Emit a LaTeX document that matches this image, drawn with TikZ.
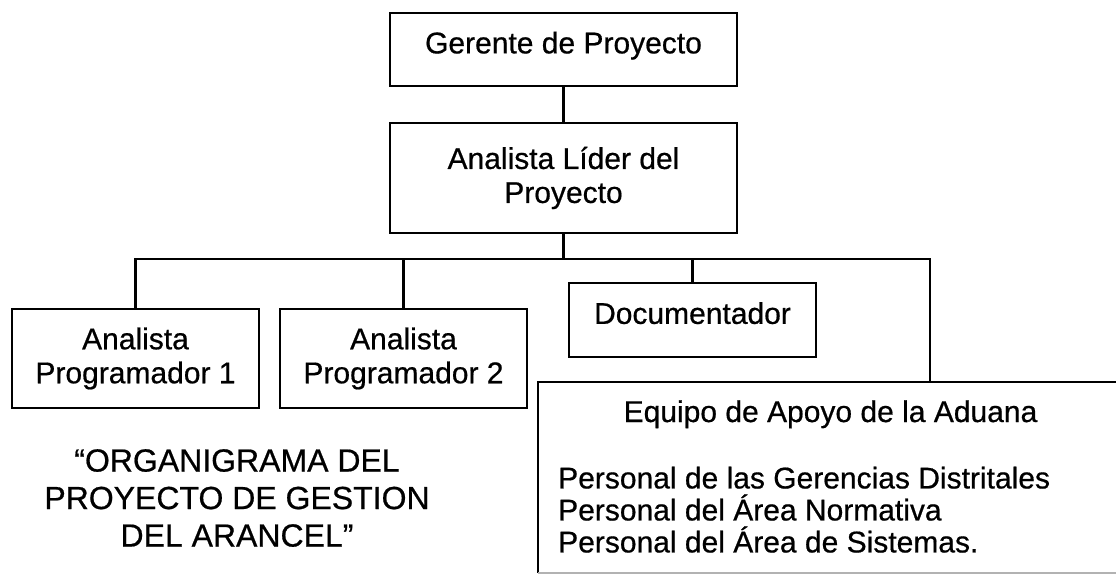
\documentclass[tikz,border=0pt]{standalone}
\usepackage{fontspec}
\setmainfont{Liberation Sans}[FakeBold=0.6]
\begin{document}
\begin{tikzpicture}[x=1pt,y=-1pt,
    box/.style={draw, line width=2.6pt, inner sep=0pt, align=center,
        font=\fontsize{30}{34}\selectfont},
    link/.style={line width=2.2pt},
    txt/.style={inner sep=0pt, font=\fontsize{30}{32}\selectfont}]
    \useasboundingbox (0,0) rectangle (1116,577);

    \node[box, minimum width=347pt, minimum height=73pt, text depth=14pt]
        (gerente) at (563.5,49.5) {Gerente de Proyecto};
    \node[box, minimum width=347pt, minimum height=110pt]
        (lider) at (563.5,178) {Analista Líder del\\Proyecto};
    \node[box, minimum width=247pt, minimum height=99pt]
        (prog1) at (135.5,358.5) {Analista\\Programador 1};
    \node[box, minimum width=247pt, minimum height=99pt]
        (prog2) at (403.5,358.5) {Analista\\Programador 2};
    \node[box, minimum width=247pt, minimum height=74pt, text depth=14pt]
        (doc) at (692.5,320) {Documentador};

    \node[minimum width=590pt, minimum height=191pt, inner sep=0pt]
        (equipo) at (833,477.5) {};
    \draw[line width=2.6pt] (equipo.north east) -- (equipo.north west) -- (equipo.south west);
    \draw[line width=1.5pt, black!30] (equipo.south west) -- (equipo.south east);
    \node[txt, anchor=base] (eqtitle) at (830.5,422) {Equipo de Apoyo de la Aduana};
    \node[txt, anchor=north west, align=left] (eqlist) at (558,466.5)
        {Personal de las Gerencias Distritales\\Personal del Área Normativa\\Personal del Área de Sistemas.};

    \node[inner sep=0pt, anchor=north, align=center,
        font=\fontsize{32}{37.5}\selectfont] (caption) at (237,449)
        {“ORGANIGRAMA DEL\\PROYECTO DE GESTION\\DEL ARANCEL”};

    \coordinate (busR) at (930,259);
    \draw[link] (gerente) -- (lider);
    \draw[link] (lider.south) -- (lider.south |- busR);
    \draw[link] (prog1.north) |- (busR) -- (busR |- equipo.north);
    \draw[link] (prog2.north) -- (prog2.north |- busR);
    \draw[link] (doc.north) -- (doc.north |- busR);
\end{tikzpicture}
\end{document}
